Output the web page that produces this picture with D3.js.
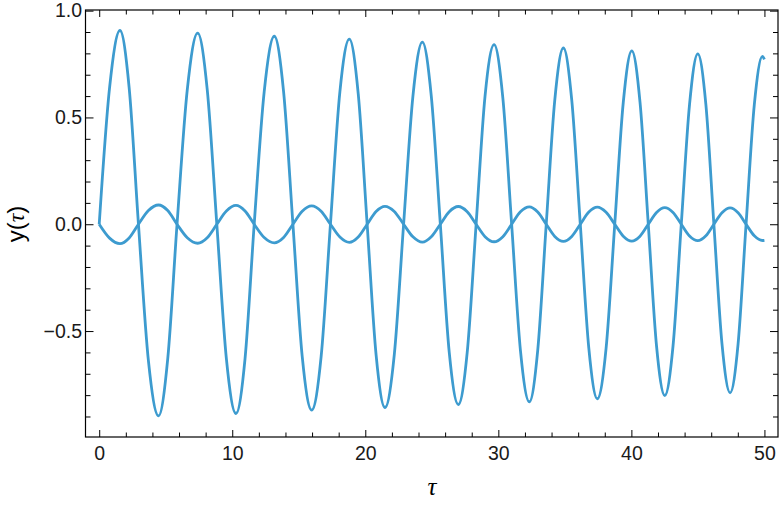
<!DOCTYPE html>
<html>
<head>
<meta charset="utf-8">
<script src="https://cdn.jsdelivr.net/npm/d3@7"></script>
<style>
  body { margin: 0; background: #fff; }
  svg { display: block; }
</style>
</head>
<body>
<svg width="780" height="507"></svg>
<script>
// key points: zero crossings, extrema and points halfway between
var tau = [0, 0.78, 1.56, 2.25, 2.95, 3.70, 4.46, 5.15, 5.85, 6.62, 7.40, 8.12, 8.84, 9.56, 10.28, 10.96,
  11.65, 12.40, 13.16, 13.86, 14.56, 15.26, 15.97, 16.68, 17.38, 18.09, 18.80, 19.47, 20.14, 20.81,
  21.48, 22.18, 22.88, 23.58, 24.29, 24.96, 25.64, 26.31, 26.99, 27.66, 28.33, 29.00, 29.68, 30.34,
  31.00, 31.66, 32.33, 32.96, 33.60, 34.24, 34.89, 35.52, 36.16, 36.80, 37.44, 38.10, 38.75, 39.39,
  40.03, 40.65, 41.27, 41.89, 42.51, 43.13, 43.75, 44.37, 44.99, 45.60, 46.20, 46.81, 47.42, 48.02,
  48.62, 49.24, 49.85, 50.00];

var bigY = [0, 0.64, 0.907, 0.64, 0, -0.64, -0.897, -0.63, 0, 0.63, 0.895, 0.63, 0, -0.63, -0.886, -0.63,
  0, 0.62, 0.880, 0.62, 0, -0.62, -0.870, -0.62, 0, 0.62, 0.867, 0.61, 0, -0.61,
  -0.858, -0.61, 0, 0.60, 0.853, 0.60, 0, -0.60, -0.844, -0.60, 0, 0.60, 0.841, 0.59,
  0, -0.59, -0.831, -0.59, 0, 0.58, 0.825, 0.58, 0, -0.58, -0.817, -0.58, 0, 0.57,
  0.812, 0.57, 0, -0.57, -0.802, -0.57, 0, 0.56, 0.798, 0.56, 0, -0.56, -0.789, -0.56,
  0, 0.56, 0.786, 0.772];

var smallY = [0, -0.065, -0.091, -0.064, 0, 0.064, 0.090, 0.064, 0, -0.063, -0.089, -0.063, 0, 0.062, 0.088, 0.062,
  0, -0.062, -0.087, -0.062, 0, 0.061, 0.086, 0.061, 0, -0.060, -0.085, -0.060, 0, 0.060,
  0.084, 0.060, 0, -0.059, -0.084, -0.059, 0, 0.059, 0.083, 0.059, 0, -0.058, -0.082, -0.058,
  0, 0.058, 0.081, 0.057, 0, -0.057, -0.080, -0.057, 0, 0.057, 0.080, 0.056, 0, -0.056,
  -0.079, -0.056, 0, 0.055, 0.078, 0.055, 0, -0.055, -0.077, -0.054, 0, 0.054, 0.077, 0.054,
  0, -0.054, -0.076, -0.075];

var xTicks = [0, 10, 20, 30, 40, 50];
var xMinor = [2, 4, 6, 8, 12, 14, 16, 18, 22, 24, 26, 28, 32, 34, 36, 38, 42, 44, 46, 48];
var yTicks = [-0.5, 0, 0.5, 1.0];
var yMinor = [-0.9, -0.8, -0.7, -0.6, -0.4, -0.3, -0.2, -0.1, 0.1, 0.2, 0.3, 0.4, 0.6, 0.7, 0.8, 0.9];

(function() {
  var svg = d3.select("svg"),
      frame = {left: 85.5, right: 778, top: 10, bottom: 437};

  var x = d3.scaleLinear().domain([-1.03, 51.02]).range([frame.left, frame.right]);
  var y = d3.scaleLinear().domain([-0.996, 1.003]).range([frame.bottom, frame.top]);

  function axis(gen, values, size, pad, labels) {
    return gen.tickValues(values).tickSizeInner(-size).tickSizeOuter(0).tickPadding(pad)
              .tickFormat(labels ? labels : "");
  }

  function addAxis(pos, gen) {
    var g = svg.append("g").attr("transform", pos).call(gen);
    g.select(".domain").remove();
    g.selectAll(".tick line").attr("stroke", "#000").attr("stroke-width", 1);
    g.selectAll(".tick text")
     .style("font-family", "'Liberation Sans', Arial, sans-serif")
     .style("font-size", "19.5px")
     .attr("fill", "#1a1a1a");
    return g;
  }

  var atBottom = "translate(0," + frame.bottom + ")",
      atTop = "translate(0," + frame.top + ")",
      atLeft = "translate(" + frame.left + ",0)",
      atRight = "translate(" + frame.right + ",0)";

  addAxis(atBottom, axis(d3.axisBottom(x), xTicks, 7, 9, d3.format("d")));
  addAxis(atBottom, axis(d3.axisBottom(x), xMinor, 4.5, 0, null));
  addAxis(atTop, axis(d3.axisTop(x), xTicks, 7, 0, null));
  addAxis(atTop, axis(d3.axisTop(x), xMinor, 4.5, 0, null));
  addAxis(atLeft, axis(d3.axisLeft(y), yTicks, 8, 3.5, d3.format(".1f")));
  addAxis(atLeft, axis(d3.axisLeft(y), yMinor, 5, 0, null));
  addAxis(atRight, axis(d3.axisRight(y), yTicks, 8, 0, null));
  addAxis(atRight, axis(d3.axisRight(y), yMinor, 5, 0, null));

  svg.append("rect")
     .attr("x", frame.left).attr("y", frame.top)
     .attr("width", frame.right - frame.left).attr("height", frame.bottom - frame.top)
     .attr("fill", "none").attr("stroke", "#000").attr("stroke-width", 1.2);

  var line = d3.line()
      .x(function(d) { return x(d[0]); })
      .y(function(d) { return y(d[1]); })
      .curve(d3.curveMonotoneX);

  [bigY, smallY].forEach(function(vals) {
    svg.append("path")
       .datum(tau.map(function(t, i) { return [t, vals[i]]; }))
       .attr("fill", "none")
       .attr("stroke", "#3d9bcf")
       .attr("stroke-width", 2.8)
       .attr("stroke-linejoin", "round")
       .attr("d", line);
  });

  svg.append("text")
     .attr("x", 432).attr("y", 495)
     .attr("text-anchor", "middle")
     .style("font-family", "'Liberation Serif', 'DejaVu Serif', serif")
     .style("font-style", "italic")
     .style("font-size", "25px")
     .text("τ");

  var yl = svg.append("text")
     .attr("transform", "translate(24,224) rotate(-90)")
     .attr("text-anchor", "middle")
     .style("font-family", "'Liberation Sans', Arial, sans-serif")
     .style("font-size", "24px");
  yl.append("tspan").text("y(");
  yl.append("tspan").style("font-family", "'Liberation Serif', serif").style("font-style", "italic").text("τ");
  yl.append("tspan").text(")");
})();
</script>
</body>
</html>
